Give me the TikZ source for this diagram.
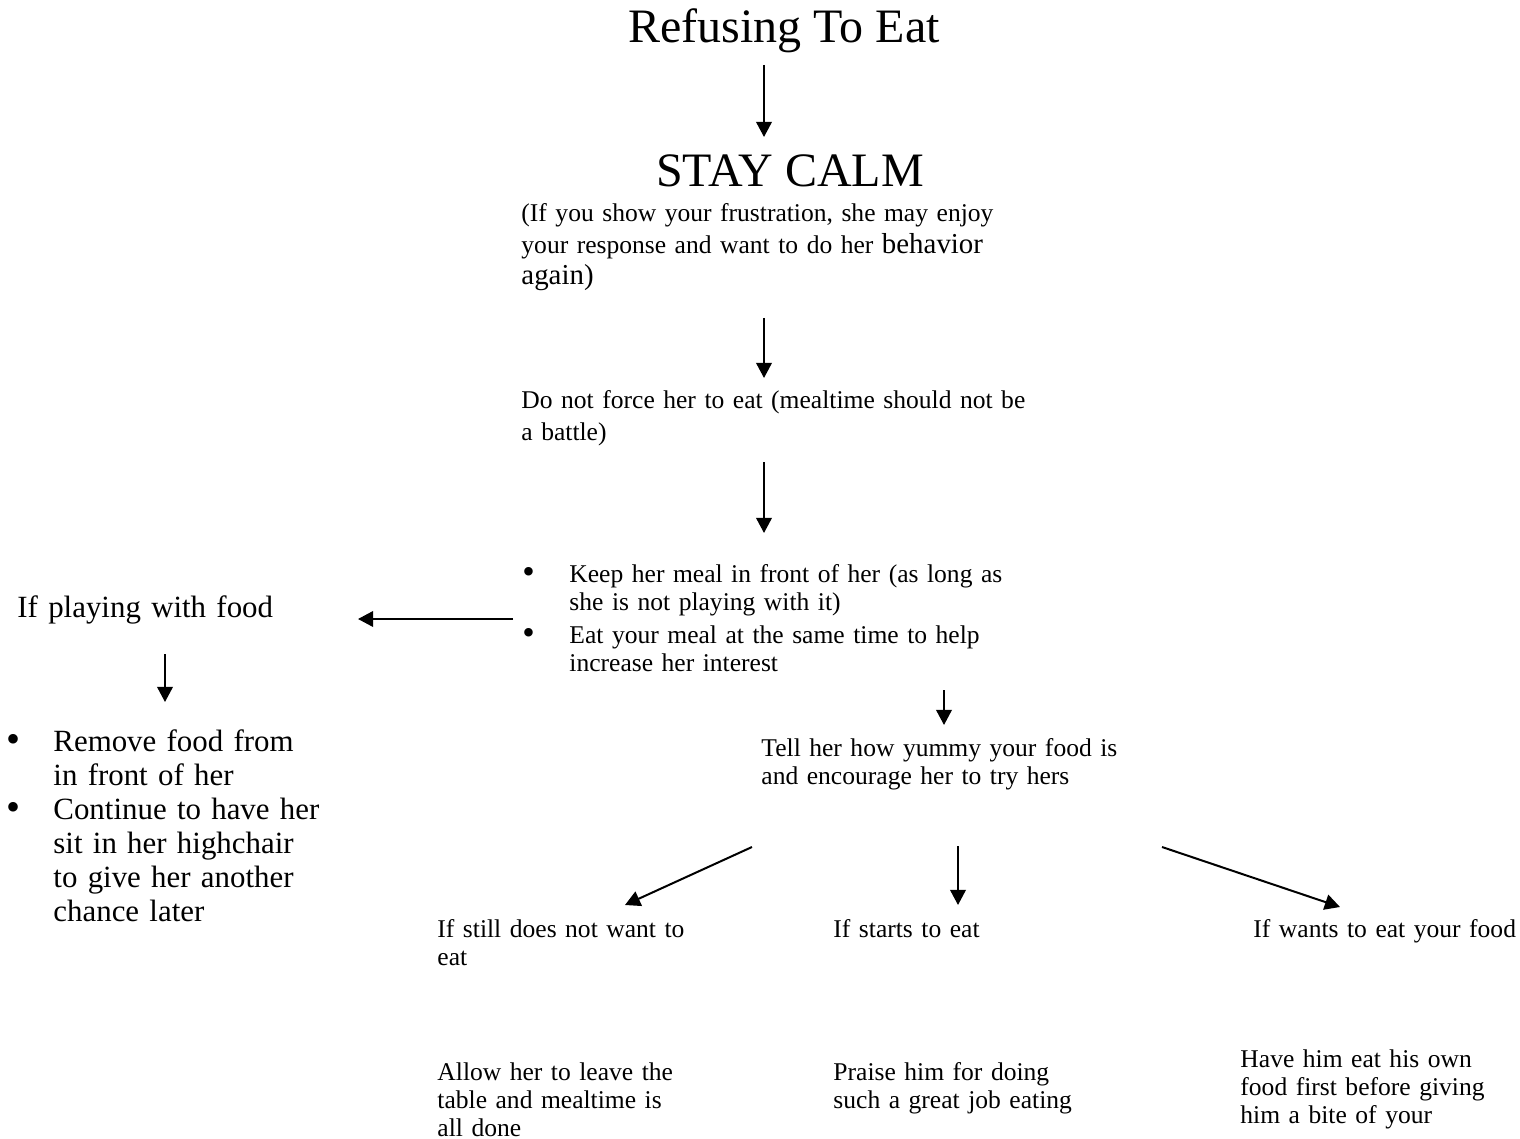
\documentclass[tikz,border=0pt]{standalone}
\usepackage{fontspec}
\setmainfont{Liberation Serif}
\usetikzlibrary{arrows.meta, positioning}

\begin{document}
\begin{tikzpicture}[x=0.45pt, y=-0.45pt,
    big/.style={anchor=base, inner sep=0pt, font=\fontsize{21.6}{24}\selectfont},
    body/.style={anchor=base west, inner sep=0pt, align=left, text width=#1,
      font=\fontsize{11.5}{12.6}\selectfont},
    body/.default=250pt,
    side/.style={anchor=base west, inner sep=0pt, align=left, text width=150pt,
      font=\fontsize{13.9}{15.3}\selectfont},
    dot/.style={},
    arr/.style={line width=0.9pt, -{Triangle[length=6.8pt, width=7pt]}}]
      \useasboundingbox (0,0) rectangle (1520,1139);
      % middle column
      \node[big] (title) at (784, 43) {Refusing To Eat};
      \node[big] (calm) at (790, 187) {STAY CALM};
      \node[body, font=\fontsize{11.5}{14}\selectfont] (why) at (521, 222)
        {(If you show your frustration, she may enjoy\\
         your response and want to do her {\fontsize{13}{14}\selectfont behavior}\\
         {\fontsize{13}{14}\selectfont again)}};
      \node[body, font=\fontsize{11.5}{14.5}\selectfont] (force) at (521, 408)
        {Do not force her to eat (mealtime should not be\\ a battle)};
      \node[body] (keep) at (522, 582)
        {\makebox[21.15pt][l]{\raisebox{-0.8pt}{\fontsize{16}{16}\selectfont •}}Keep her meal in front of her (as long as\\
         \hspace*{21.15pt}she is not playing with it)\\[2.25pt]
         \makebox[21.15pt][l]{\raisebox{-0.8pt}{\fontsize{16}{16}\selectfont •}}Eat your meal at the same time to help\\
         \hspace*{21.15pt}increase her interest};
      \node[body] (tell) at (761, 756)
        {Tell her how yummy your food is\\ and encourage her to try hers};
      % left branch
      \node[side] (play) at (17, 617) {If playing with food};
      \node[side] (remove) at (6, 751)
        {\makebox[21.15pt][l]{\raisebox{-0.8pt}{\fontsize{18}{18}\selectfont •}}Remove food from\\
         \hspace*{21.15pt}in front of her\\
         \makebox[21.15pt][l]{\raisebox{-0.8pt}{\fontsize{18}{18}\selectfont •}}Continue to have her\\
         \hspace*{21.15pt}sit in her highchair\\
         \hspace*{21.15pt}to give her another\\
         \hspace*{21.15pt}chance later};
      % bottom row
      \node[body] (still) at (437, 937) {If still does not want to\\ eat};
      \node[body] (starts) at (833, 937) {If starts to eat};
      \node[body] (wants) at (1253, 937) {If wants to eat your food};
      \node[body] (allow) at (437, 1080)
        {Allow her to leave the\\ table and mealtime is\\ all done};
      \node[body] (praise) at (833, 1080)
        {Praise him for doing\\ such a great job eating};
      \node[body] (own) at (1240, 1067)
        {Have him eat his own\\ food first before giving\\ him a bite of your};
      % arrow ends
      \coordinate (titleout) at (764, 65);
      \coordinate (calmin) at (764, 137);
      \coordinate (whyout) at (764, 318);
      \coordinate (forcein) at (764, 378);
      \coordinate (forceout) at (764, 462);
      \coordinate (keepin) at (764, 533);
      \coordinate (keepleft) at (513, 619);
      \coordinate (playin) at (358, 619);
      \coordinate (playout) at (165, 654);
      \coordinate (removein) at (165, 702);
      \coordinate (keepout) at (944, 690);
      \coordinate (tellin) at (944, 725);
      \coordinate (tellleft) at (752, 847);
      \coordinate (stillin) at (625, 905);
      \coordinate (tellmid) at (958, 846);
      \coordinate (startsin) at (958, 905);
      \coordinate (tellright) at (1162, 847);
      \coordinate (wantsin) at (1340, 907);
      \draw[arr] (titleout) -- (calmin);
      \draw[arr] (whyout) -- (forcein);
      \draw[arr] (forceout) -- (keepin);
      \draw[arr] (keepleft) -- (playin);
      \draw[arr] (playout) -- (removein);
      \draw[arr] (keepout) -- (tellin);
      \draw[arr] (tellleft) -- (stillin);
      \draw[arr] (tellmid) -- (startsin);
      \draw[arr] (tellright) -- (wantsin);
\end{tikzpicture}
\end{document}
